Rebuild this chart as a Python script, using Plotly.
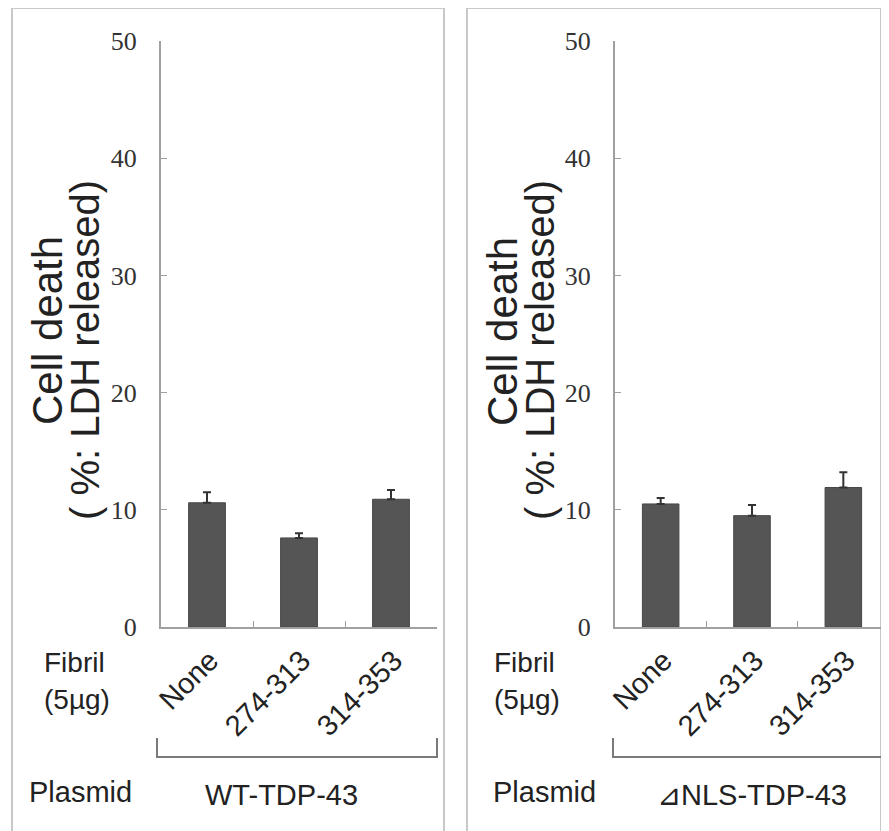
import plotly.graph_objects as go

# The page body has an 8px margin, so the figure is sized to fit the
# 889x831 window and all layout positions below are given in window pixels.
OFF = 8
W, H = 889 - OFF, 831 - OFF

categories = ["None", "274-313", "314-353"]
wt_values = [10.6, 7.6, 10.9]
wt_errors = [0.9, 0.4, 0.8]
nls_values = [10.5, 9.5, 11.9]
nls_errors = [0.5, 0.9, 1.3]
y_ticks = [0, 10, 20, 30, 40, 50]
panel_titles = ["WT-TDP-43", "\u22bfNLS-TDP-43"]


def px(x):
    return (x - OFF) / W


def py(y):
    return 1 - (y - OFF) / H


BAR = "#555555"
TXT = "#222222"
AX = "#a0a0a0"
SANS = "Liberation Sans, Arial, sans-serif"
SERIF = "Liberation Serif, Times New Roman, serif"

fig = go.Figure()
for vals, errs, xa, ya in [(wt_values, wt_errors, "x", "y"), (nls_values, nls_errors, "x2", "y2")]:
    fig.add_trace(go.Bar(
        x=categories, y=vals, xaxis=xa, yaxis=ya,
        marker=dict(color=BAR, line=dict(color="#474747", width=1)),
        error_y=dict(type="data", symmetric=False, array=errs,
                     arrayminus=[0] * len(errs), color="#333333", thickness=2, width=4),
        showlegend=False,
    ))

ydom = [py(627), py(41)]
xcommon = dict(
    type="category", showline=True, linecolor=AX, linewidth=2,
    ticks="inside", tickson="boundaries", ticklen=6, tickcolor=AX, tickwidth=1,
    tickangle=-45, tickfont=dict(family=SANS, size=29, color=TXT),
    showgrid=False, zeroline=False, range=[-0.5, 2.5], fixedrange=True,
    ticklabelstandoff=3, ticklabelshift=3, automargin=False,
)
ycommon = dict(
    range=[0, 50], tickvals=y_ticks, showline=True, linecolor=AX, linewidth=2,
    ticks="inside", ticklen=6, tickcolor=AX, tickwidth=1,
    tickfont=dict(family=SERIF, size=26, color="#333333"),
    showgrid=False, zeroline=False, ticklabelstandoff=17, automargin=False,
)

fig.update_layout(
    width=W, height=H,
    margin=dict(l=0, r=0, t=0, b=0, autoexpand=False),
    paper_bgcolor="white", plot_bgcolor="white",
    bargap=0.6,
    xaxis=dict(domain=[px(161), px(437)], anchor="y", **xcommon),
    yaxis=dict(domain=ydom, anchor="x", **ycommon),
    xaxis2=dict(domain=[px(615), 1.0], anchor="y2", **xcommon),
    yaxis2=dict(domain=ydom, anchor="x2", **ycommon),
)

shapes = []
# panel borders
for x0, x1 in [(12, 444), (467, 881)]:
    shapes.append(dict(type="rect", xref="paper", yref="paper",
                       x0=px(x0), x1=px(x1), y0=py(8), y1=py(845),
                       line=dict(color="#c8c8c8", width=2), layer="below"))
# brackets
for bx0, bx1 in [(157, 437), (613, 895)]:
    path = "M {a},{t} L {a},{b} L {c},{b} L {c},{t}".format(
        a=px(bx0), c=px(bx1), t=py(738), b=py(757))
    shapes.append(dict(type="path", xref="paper", yref="paper", path=path,
                       line=dict(color="#7a7a7a", width=2)))
fig.update_layout(shapes=shapes)

# per panel: (title line 1 x, title line 2 x, fibril x, plasmid x, panel label, label x)
panels = [
    (48, 85, 42, 27, panel_titles[0], 281),
    (503, 540, 492, 491, panel_titles[1], 752),
]
ann = []
for t1x, t2x, fx, plx, title, title_x in panels:
    ann.append(dict(text="Cell death", x=px(t1x), y=py(331), textangle=-90,
                    font=dict(family=SANS, size=42, color=TXT)))
    ann.append(dict(text="( %: LDH released)", x=px(t2x), y=py(350), textangle=-90,
                    font=dict(family=SANS, size=40, color=TXT)))
    ann.append(dict(text="Fibril", x=px(fx), y=py(662), xanchor="left",
                    font=dict(family=SANS, size=28, color=TXT)))
    ann.append(dict(text="(5\u00b5g)", x=px(fx), y=py(699), xanchor="left",
                    font=dict(family=SANS, size=28, color=TXT)))
    ann.append(dict(text="Plasmid", x=px(plx), y=py(792), xanchor="left",
                    font=dict(family=SANS, size=29, color=TXT)))
    ann.append(dict(text=title, x=px(title_x), y=py(795), xanchor="center",
                    font=dict(family=SANS, size=29, color=TXT)))
for a in ann:
    a.setdefault("xanchor", "center")
    a["yanchor"] = "middle"
    a["xref"] = "paper"
    a["yref"] = "paper"
    a["showarrow"] = False
fig.update_layout(annotations=ann)

fig.write_html("out.html")
